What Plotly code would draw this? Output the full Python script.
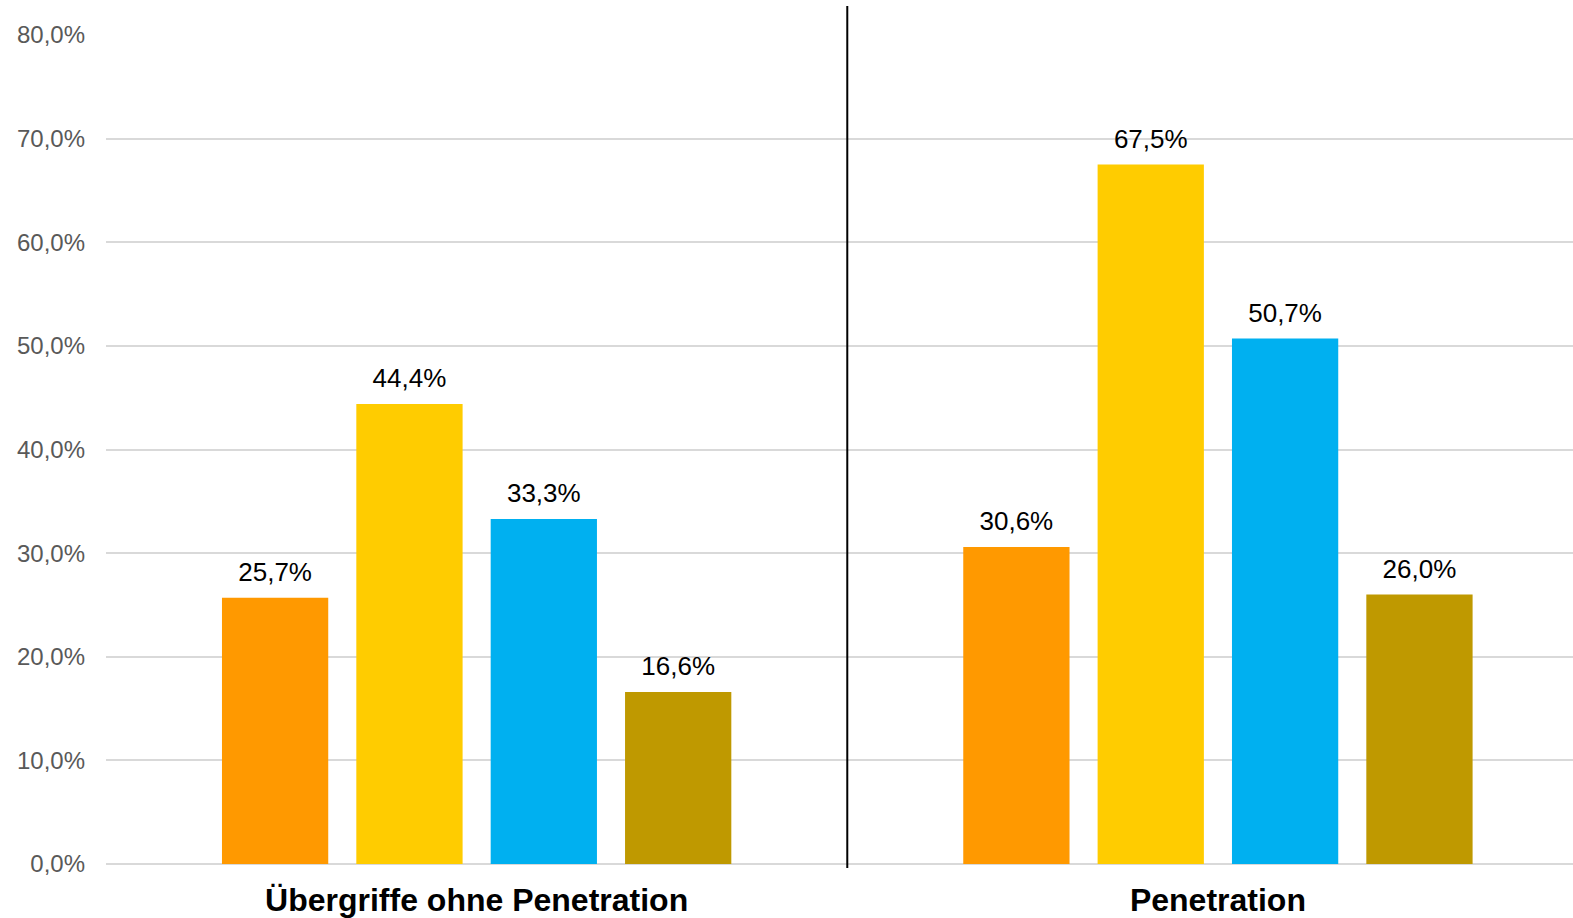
import plotly.graph_objects as go

categories = ["Übergriffe ohne Penetration", "Penetration"]
series_names = ["Serie 1", "Serie 2", "Serie 3", "Serie 4"]
series_values = [
    [25.7, 30.6],
    [44.4, 67.5],
    [33.3, 50.7],
    [16.6, 26.0],
]
series_colors = ["#FF9900", "#FFCC00", "#00B0F0", "#BF9900"]
y_ticks = [0, 10, 20, 30, 40, 50, 60, 70, 80]
y_tick_labels = ["0,0%", "10,0%", "20,0%", "30,0%", "40,0%", "50,0%", "60,0%", "70,0%", "80,0%"]


def fmt(v):
    return f"{v:.1f}".replace(".", ",") + "%"


fig = go.Figure()
for i, (name, vals, col) in enumerate(zip(series_names, series_values, series_colors)):
    fig.add_trace(go.Bar(
        x=categories, y=vals, name=name,
        marker=dict(color=col, line=dict(width=0)),
        offsetgroup=str(i), alignmentgroup="a",
        hoverinfo="skip",
    ))
for i, vals in enumerate(series_values):
    fig.add_trace(go.Scatter(
        x=categories, y=vals, mode="markers+text",
        marker=dict(size=15, color="rgba(0,0,0,0)"),
        text=[fmt(v) for v in vals],
        textposition="top center",
        textfont=dict(family="Liberation Sans, Arial", size=26, color="#000000"),
        offsetgroup=str(i), alignmentgroup="a",
        cliponaxis=False, hoverinfo="skip", showlegend=False,
    ))

fig.update_layout(
    width=1573, height=918,
    margin=dict(l=106, r=0, t=35, b=54),
    paper_bgcolor="white", plot_bgcolor="white",
    barmode="group", bargap=0.275, bargroupgap=0.209,
    scattermode="group", scattergap=0.275,
    showlegend=False,
    font=dict(family="Liberation Sans, Arial"),
)
fig.update_xaxes(
    range=[-0.5, 1.479], automargin=False,
    showgrid=False, zeroline=False, showline=False,
    tickfont=dict(family="Liberation Sans, Arial", size=32, color="#000000"),
    tickprefix="<b>", ticksuffix="</b>",
    ticks="", ticklabelstandoff=14,
)
fig.update_yaxes(
    range=[0, 80], automargin=False,
    tickvals=y_ticks, ticktext=y_tick_labels,
    showgrid=True, gridcolor="#D9D9D9", gridwidth=1.5,
    zeroline=True, zerolinecolor="#D9D9D9", zerolinewidth=2,
    showline=False, ticks="",
    tickfont=dict(family="Liberation Sans, Arial", size=24, color="#595959"),
    ticklabelstandoff=20,
)
fig.add_shape(
    type="line", xref="x", yref="paper",
    x0=0.5, x1=0.5, y0=-4 / 829, y1=1 + 29 / 829,
    line=dict(color="#000000", width=2),
)
fig.write_html("out.html")
